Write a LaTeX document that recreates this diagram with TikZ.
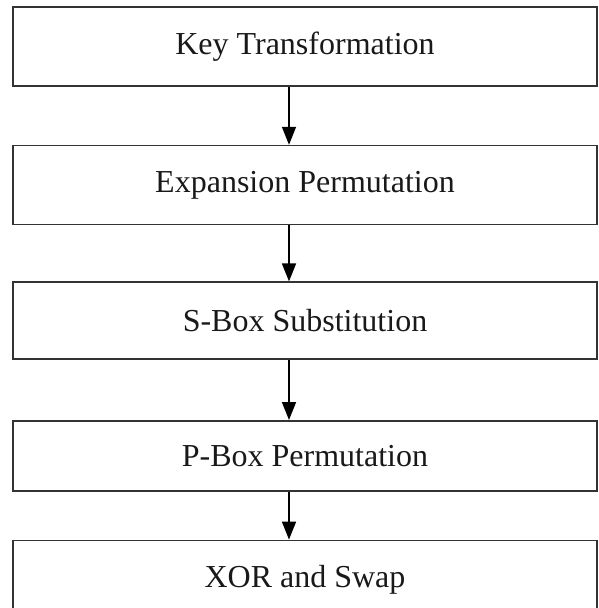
\documentclass[tikz,border=0pt]{standalone}
\usepackage{fontspec}
\setmainfont{Liberation Serif}
\usetikzlibrary{positioning,arrows.meta}
\tikzstyle{stage} = [rectangle, minimum width=584pt, text centered, draw=black!80, line width=1.6pt, font=\fontsize{32}{38}\selectfont, text=black!90]
\tikzstyle{arrow} = [line width=1.6pt, -{Triangle[length=18pt,width=14pt]}]

\begin{document}
\begin{tikzpicture}[x=1pt,y=-1pt]
\useasboundingbox (0,0) rectangle (598,608);
\clip (0,0) rectangle (598,608);

\node (key) [stage, minimum height=79pt] at (305,46.5) {Key Transformation};
\node (expand) [stage, minimum height=79pt, below=58pt of key] {Expansion Permutation};
\node (sbox) [stage, minimum height=77pt, below=56pt of expand] {S-Box Substitution};
\node (pbox) [stage, minimum height=70pt, below=60pt of sbox] {P-Box Permutation};
\node (xorswap) [stage, minimum height=78pt, below=48pt of pbox] {XOR and Swap};

% arrows sit a bit left of the box centres
\coordinate (ax) at (289,0);
\draw [arrow] (key.south -| ax) -- (expand.north -| ax);
\draw [arrow] (expand.south -| ax) -- (sbox.north -| ax);
\draw [arrow] (sbox.south -| ax) -- (pbox.north -| ax);
\draw [arrow] (pbox.south -| ax) -- (xorswap.north -| ax);

\end{tikzpicture}
\end{document}
